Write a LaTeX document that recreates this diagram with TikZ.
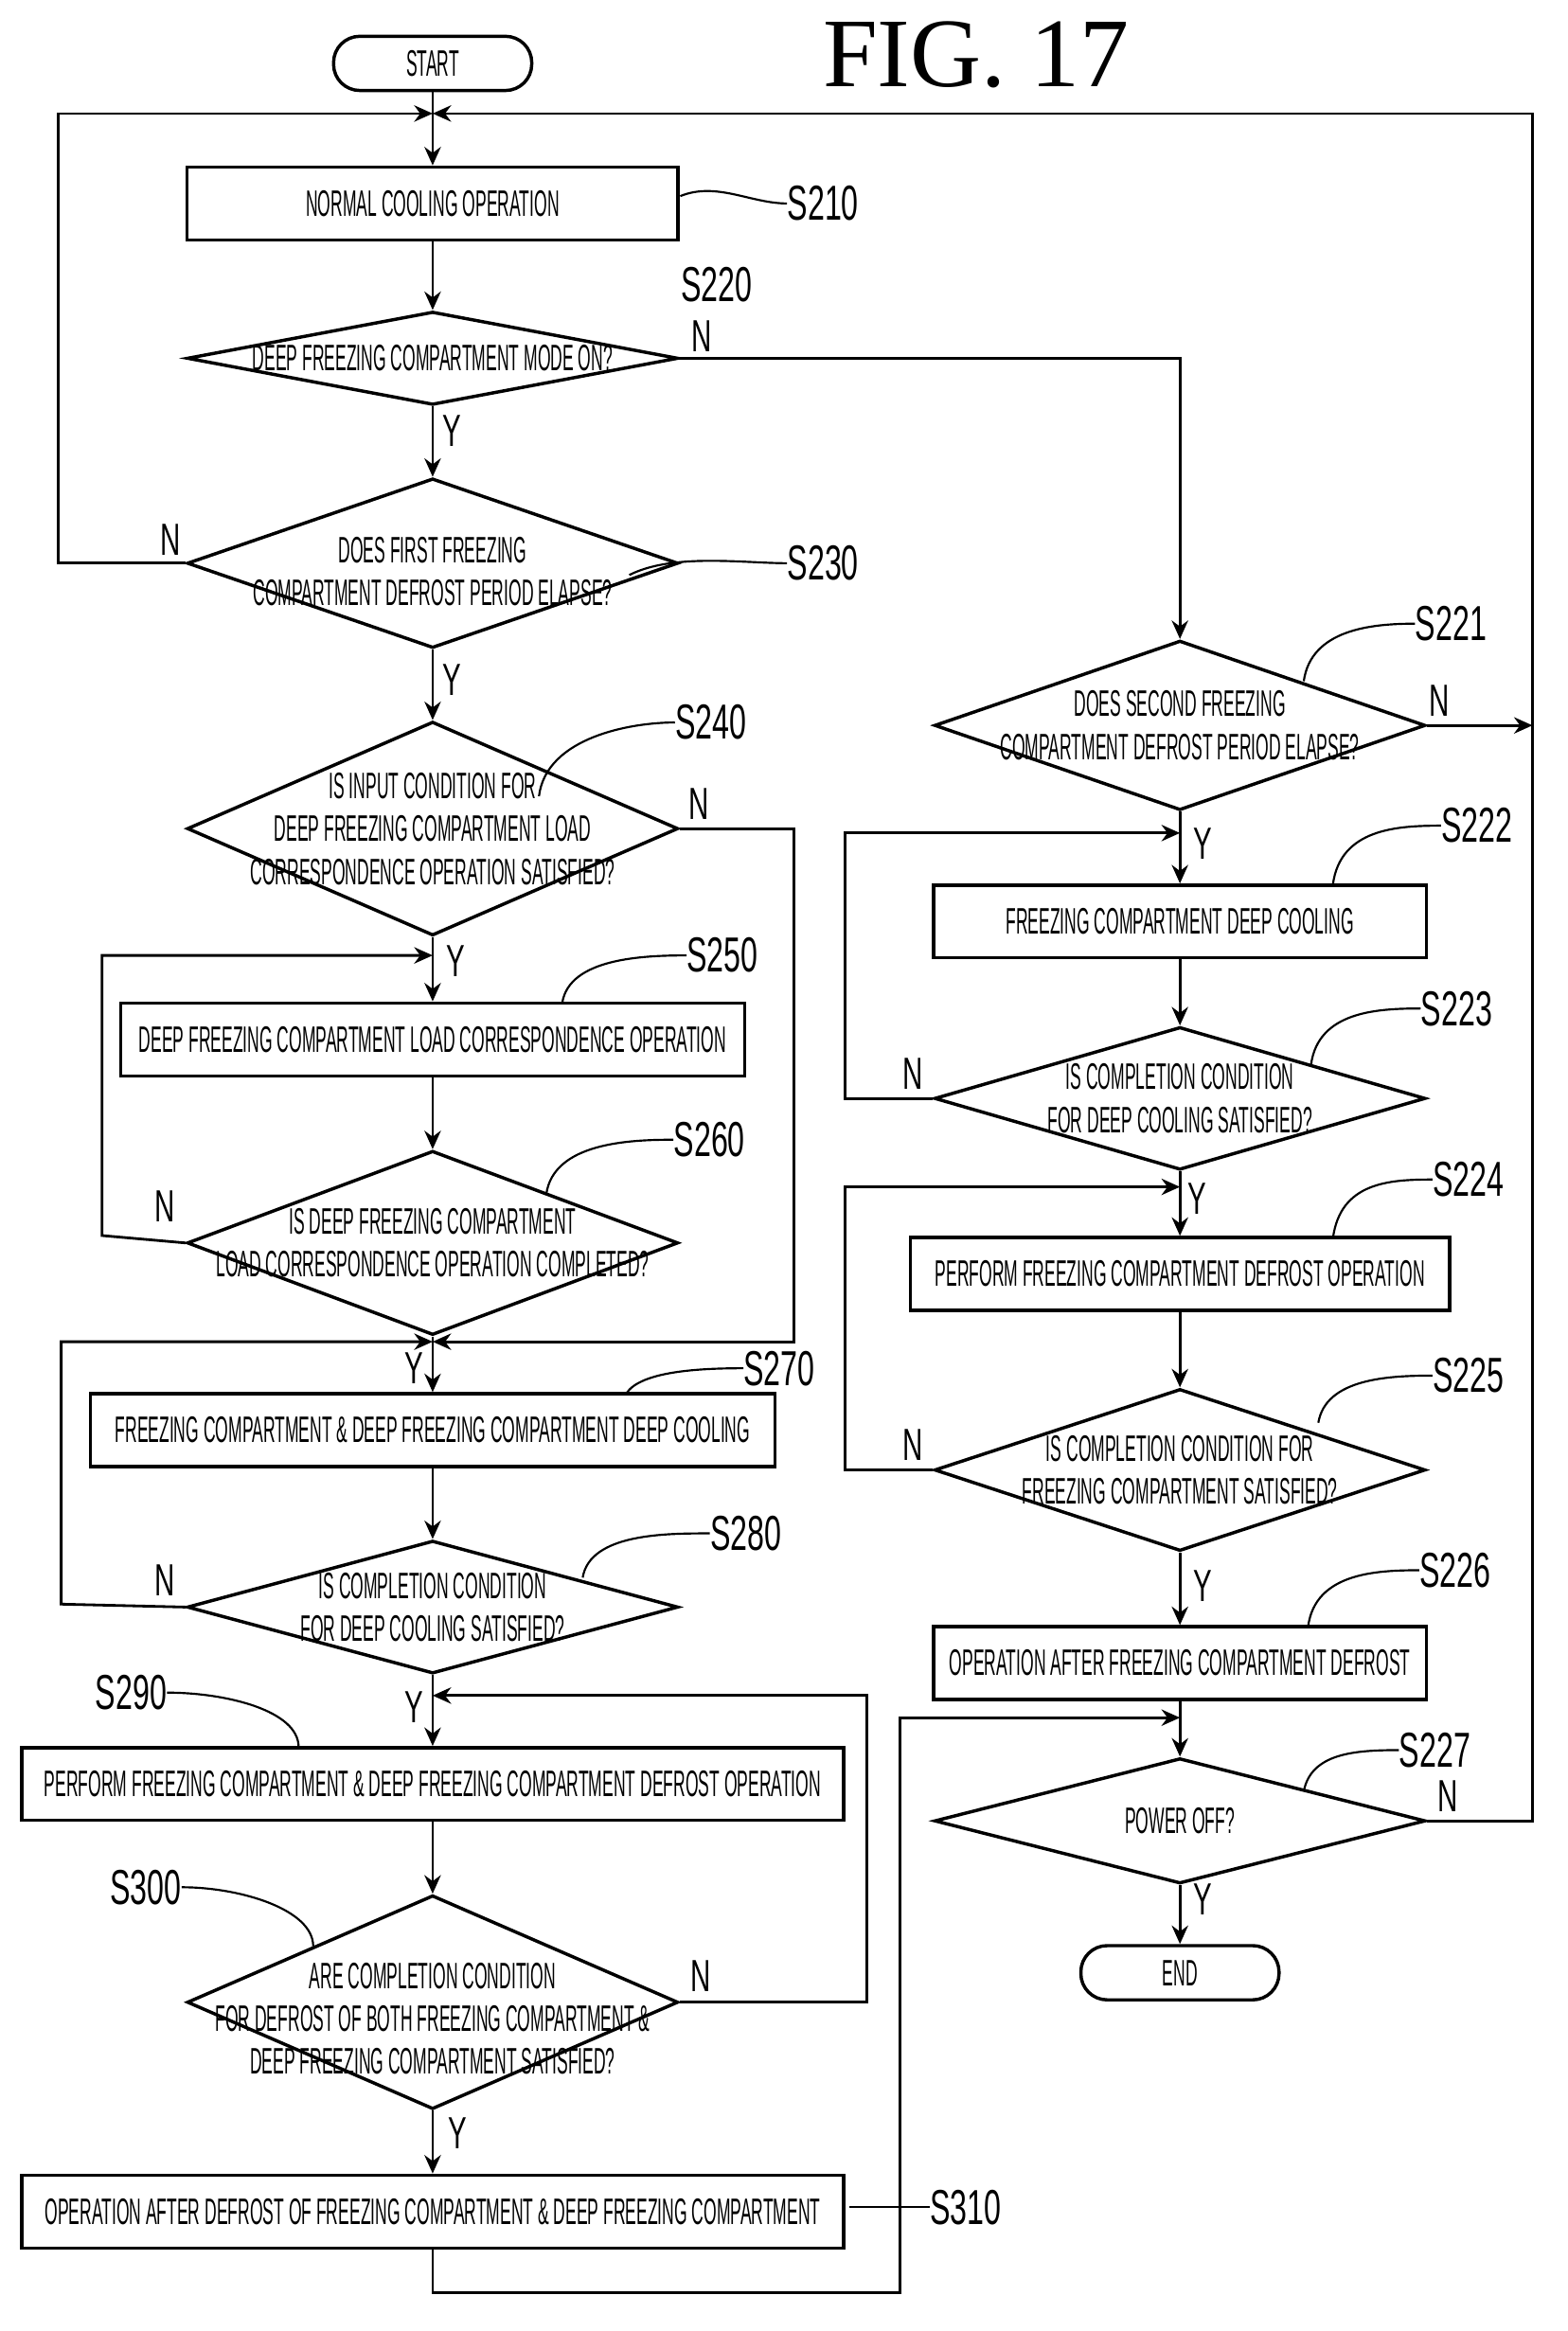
\documentclass[tikz,border=0pt]{standalone}
\usepackage{fontspec}
\setmainfont{Liberation Sans}
\newfontfamily\condfont[FakeStretch=0.45]{Liberation Sans}
\newfontfamily\labfont[FakeStretch=0.62]{Liberation Sans}
\newfontfamily\figfont{Liberation Serif}
\usetikzlibrary{shapes.geometric, positioning, arrows.meta}
\tikzset{
  flow/.style={line width=1.3pt, -{Stealth[length=9pt,width=8pt]}},
  line/.style={line width=1.3pt},
  lead/.style={line width=1pt},
  box/.style={draw, line width=1.6pt, rectangle, inner sep=0pt, minimum height=1.25cm},
  dia/.style={draw, line width=1.6pt, diamond, inner sep=0pt, minimum width=8.425cm},
  term/.style={draw, line width=1.6pt, rounded corners=0.45cm, inner sep=0pt, minimum width=3.4cm, minimum height=0.93cm},
  txt/.style={font=\condfont\fontsize{18}{21}\selectfont, align=center, inner sep=0pt},
  steplab/.style={font=\labfont\fontsize{24}{26}\selectfont, inner sep=0pt},
  yn/.style={font=\labfont\fontsize{22}{24}\selectfont, inner sep=0pt}
}
\begin{document}
\begin{tikzpicture}[x=0.025cm, y=-0.0253cm]
\useasboundingbox (0,0) rectangle (1076,1581);
% title
\node[font=\figfont\fontsize{48}{50}\selectfont] (fig) at (670,37) {FIG. 17};

% left column
\node[term, txt] (start) at (297,43) {START};
\node[box, txt, minimum width=8.425cm] (s210) at (297,138) {NORMAL COOLING OPERATION};
\node[dia, minimum height=1.6cm] (s220) at (297,243) {};
\node[txt] at (s220) {DEEP FREEZING COMPARTMENT MODE ON?};
\node[dia, minimum height=2.91cm] (s230) at (297,382) {};
\node[txt] at ([yshift=-4pt]s230) {DOES FIRST FREEZING\\COMPARTMENT DEFROST PERIOD ELAPSE?};
\node[dia, minimum height=3.67cm] (s240) at (297,562) {};
\node[txt] at (s240) {IS INPUT CONDITION FOR\\DEEP FREEZING COMPARTMENT LOAD\\CORRESPONDENCE OPERATION SATISFIED?};
\node[box, txt, minimum width=10.7cm] (s250) at (297,705) {DEEP FREEZING COMPARTMENT LOAD CORRESPONDENCE OPERATION};
\node[dia, minimum height=3.16cm] (s260) at (297,843) {};
\node[txt] at (s260) {IS DEEP FREEZING COMPARTMENT\\LOAD CORRESPONDENCE OPERATION COMPLETED?};
\node[box, txt, minimum width=11.75cm] (s270) at (297,970) {FREEZING COMPARTMENT \& DEEP FREEZING COMPARTMENT DEEP COOLING};
\node[dia, minimum height=2.28cm] (s280) at (297,1090) {};
\node[txt] at (s280) {IS COMPLETION CONDITION\\FOR DEEP COOLING SATISFIED?};
\node[box, txt, minimum width=14.1cm] (s290) at (297,1210) {PERFORM FREEZING COMPARTMENT \& DEEP FREEZING COMPARTMENT DEFROST OPERATION};
\node[dia, minimum height=3.67cm] (s300) at (297,1358) {};
\node[txt] at ([yshift=-8pt]s300) {ARE COMPLETION CONDITION\\FOR DEFROST OF BOTH FREEZING COMPARTMENT \&\\DEEP FREEZING COMPARTMENT SATISFIED?};
\node[box, txt, minimum width=14.1cm] (s310) at (297,1500) {OPERATION AFTER DEFROST OF FREEZING COMPARTMENT \& DEEP FREEZING COMPARTMENT};

% right column
\node[dia, minimum height=2.91cm] (s221) at (810,492) {};
\node[txt] at (s221) {DOES SECOND FREEZING\\COMPARTMENT DEFROST PERIOD ELAPSE?};
\node[box, txt, minimum width=8.45cm] (s222) at (810,625) {FREEZING COMPARTMENT DEEP COOLING};
\node[dia, minimum height=2.45cm] (s223) at (810,745) {};
\node[txt] at (s223) {IS COMPLETION CONDITION\\FOR DEEP COOLING SATISFIED?};
\node[box, txt, minimum width=9.25cm] (s224) at (810,864) {PERFORM FREEZING COMPARTMENT DEFROST OPERATION};
\node[dia, minimum height=2.78cm] (s225) at (810,997) {};
\node[txt] at (s225) {IS COMPLETION CONDITION FOR\\FREEZING COMPARTMENT SATISFIED?};
\node[box, txt, minimum width=8.45cm] (s226) at (810,1128) {OPERATION AFTER FREEZING COMPARTMENT DEFROST};
\node[dia, minimum height=2.15cm] (s227) at (810,1235) {};
\node[txt] at (s227) {POWER OFF?};
\node[term, txt] (end) at (810,1338) {END};

% junction points
\coordinate (j77) at (297,77);
\coordinate (j648) at (297,648);
\coordinate (j908) at (297,910);
\coordinate (j1150) at (297,1150);
\coordinate (j565) at (810,565);
\coordinate (j805) at (810,805);
\coordinate (j1165) at (810,1165);

% straight flow
\draw[flow] (start) -- (s210);
\draw[flow] (s210) -- (s220);
\draw[flow] (s220) -- (s230);
\draw[flow] (s230) -- (s240);
\draw[flow] (s240) -- (s250);
\draw[flow] (s250) -- (s260);
\draw[flow] (s260) -- (s270);
\draw[flow] (s270) -- (s280);
\draw[flow] (s280) -- (s290);
\draw[flow] (s290) -- (s300);
\draw[flow] (s300) -- (s310);
\draw[flow] (s221) -- (s222);
\draw[flow] (s222) -- (s223);
\draw[flow] (s223) -- (s224);
\draw[flow] (s224) -- (s225);
\draw[flow] (s225) -- (s226);
\draw[flow] (s226) -- (s227);
\draw[flow] (s227) -- (end);

% loops
\draw[flow] (s220.east) -| (s221.north);
\draw[flow] (s230.west) -- (40,382) |- (j77);
\draw[flow] (s240.east) -- (545,562) |- (j908);
\draw[flow] (s260.west) -- (70,838) |- (j648);
\draw[flow] (s280.west) -- (42,1088) |- (j908);
\draw[flow] (s300.east) -- (595,1358) |- (j1150);
\draw[flow] (s310.south) -- (297,1555) -| (618,1165) -- (j1165);
\draw[flow] (s221.east) -- (1052,492);
\draw[flow] (s227.east) -- (1052,1235) |- (j77);
\draw[flow] (s223.west) -- (580,745) |- (j565);
\draw[flow] (s225.west) -- (580,997) |- (j805);

% Y / N
\node[yn] at (310,292) {Y};
\node[yn] at (482,228) {N};
\node[yn] at (117,366) {N};
\node[yn] at (310,461) {Y};
\node[yn] at (480,545) {N};
\node[yn] at (313,652) {Y};
\node[yn] at (113,818) {N};
\node[yn] at (284,928) {Y};
\node[yn] at (113,1072) {N};
\node[yn] at (284,1158) {Y};
\node[yn] at (481,1340) {N};
\node[yn] at (314,1447) {Y};
\node[yn] at (988,475) {N};
\node[yn] at (826,572) {Y};
\node[yn] at (627,728) {N};
\node[yn] at (822,813) {Y};
\node[yn] at (627,980) {N};
\node[yn] at (826,1076) {Y};
\node[yn] at (994,1218) {N};
\node[yn] at (826,1288) {Y};

% step labels
\node[steplab] (l210) at (565,138) {S210};
\node[steplab] (l220) at (492,193) {S220};
\node[steplab] (l230) at (565,382) {S230};
\node[steplab] (l240) at (488,490) {S240};
\node[steplab] (l250) at (496,648) {S250};
\node[steplab] (l260) at (487,773) {S260};
\node[steplab] (l270) at (535,928) {S270};
\node[steplab] (l280) at (512,1040) {S280};
\node[steplab] (l290) at (90,1148) {S290};
\node[steplab] (l300) at (100,1280) {S300};
\node[steplab] (l310) at (663,1497) {S310};
\node[steplab] (l221) at (996,423) {S221};
\node[steplab] (l222) at (1014,560) {S222};
\node[steplab] (l223) at (1000,684) {S223};
\node[steplab] (l224) at (1008,800) {S224};
\node[steplab] (l225) at (1008,933) {S225};
\node[steplab] (l226) at (999,1065) {S226};
\node[steplab] (l227) at (985,1187) {S227};

% leaders
\draw[lead] (467,133) .. controls +(25,-10) and +(-25,0) .. (l210.west);
\draw[lead] (432,390) .. controls +(30,-15) and +(-30,0) .. (l230.west);
\draw[lead] (370,540) .. controls +(5,-40) and +(-30,0) .. (l240.west);
\draw[lead] (386,680) .. controls +(5,-30) and +(-30,0) .. (l250.west);
\draw[lead] (375,810) .. controls +(5,-35) and +(-30,0) .. (l260.west);
\draw[lead] (430,945) .. controls +(10,-15) and +(-30,0) .. (l270.west);
\draw[lead] (400,1070) .. controls +(5,-30) and +(-30,0) .. (l280.west);
\draw[lead] (l290.east) .. controls +(40,0) and +(0,-25) .. (205,1185);
\draw[lead] (l300.east) .. controls +(40,0) and +(0,-25) .. (215,1320);
\draw[lead] (583,1497) -- (l310.west);
\draw[lead] (895,462) .. controls +(5,-35) and +(-30,0) .. (l221.west);
\draw[lead] (915,600) .. controls +(5,-38) and +(-30,0) .. (l222.west);
\draw[lead] (900,722) .. controls +(5,-36) and +(-30,0) .. (l223.west);
\draw[lead] (915,840) .. controls +(5,-38) and +(-30,0) .. (l224.west);
\draw[lead] (905,965) .. controls +(5,-30) and +(-30,0) .. (l225.west);
\draw[lead] (898,1103) .. controls +(5,-36) and +(-30,0) .. (l226.west);
\draw[lead] (895,1215) .. controls +(5,-26) and +(-30,0) .. (l227.west);
\end{tikzpicture}
\end{document}
